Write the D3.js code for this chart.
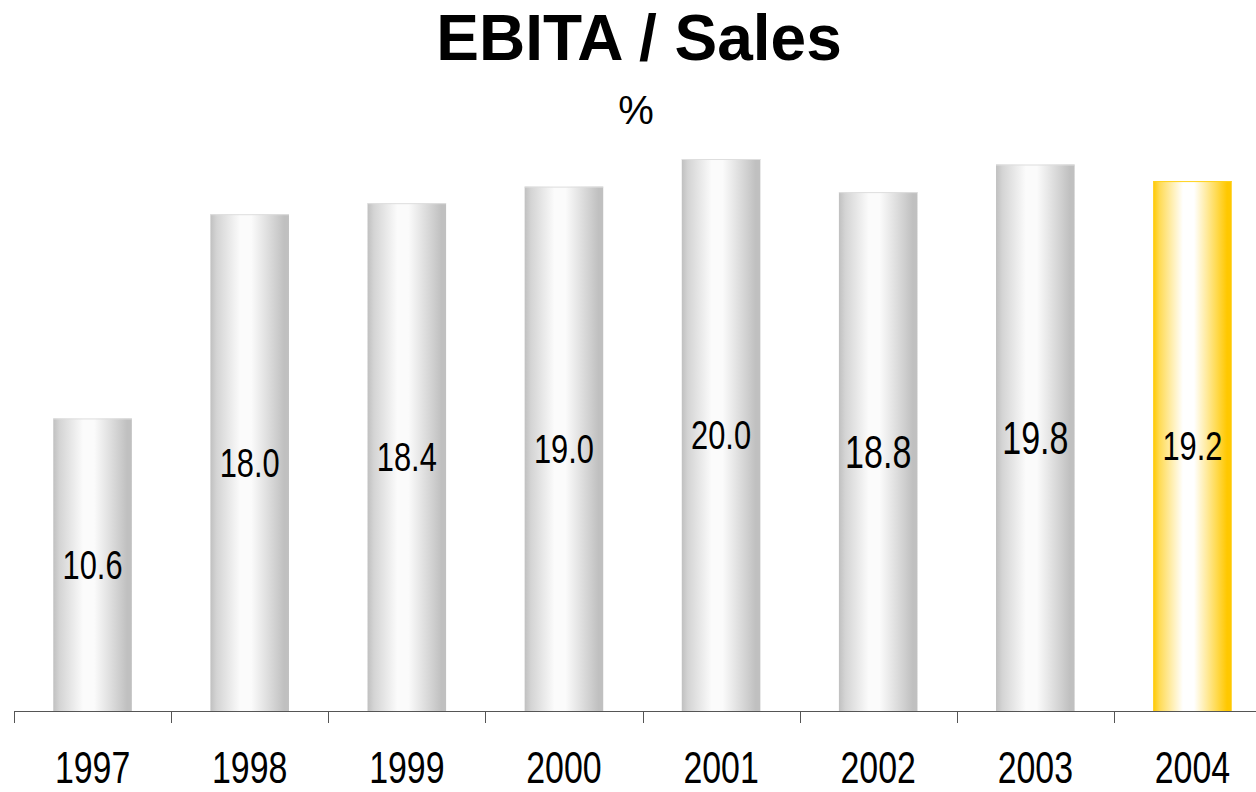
<!DOCTYPE html>
<html>
<head>
<meta charset="utf-8">
<script src="https://cdn.jsdelivr.net/npm/d3@7"></script>
<style>
  html, body { margin: 0; padding: 0; background: #fff; }
  svg { display: block; font-family: "Liberation Sans", Arial, Helvetica, sans-serif; }
</style>
</head>
<body>
<svg id="chart" width="1256" height="792"></svg>
<script>
// EBITA as a share of sales, per year
const years = ["1997", "1998", "1999", "2000", "2001", "2002", "2003", "2004"];
const ebitaSales = [10.6, 18.0, 18.4, 19.0, 20.0, 18.8, 19.8, 19.2];
const highlightYear = "2004";
const largeLabelYears = ["2002", "2003"];

const data = years.map((y, i) => ({ year: y, value: ebitaSales[i] }));

const svg = d3.select("#chart");
const baseY = 711;

const x = d3.scaleBand()
  .domain(years)
  .range([14, 1271])
  .paddingInner(0.5)
  .paddingOuter(0.25);

const y = d3.scaleLinear()
  .domain([0, 20])
  .range([baseY, 159]);

// Cylinder-like horizontal gradients
const defs = svg.append("defs");
function makeGradient(id, edge, mid, light) {
  const g = defs.append("linearGradient")
    .attr("id", id)
    .attr("x1", "0%").attr("x2", "100%")
    .attr("y1", "0%").attr("y2", "0%");
  [
    [0, edge], [0.08, mid], [0.38, light], [0.52, light],
    [0.8, mid], [0.94, edge], [1, edge]
  ].forEach(([o, c]) => g.append("stop").attr("offset", o).attr("stop-color", c));
}
makeGradient("barGrey", "#c0c0c0", "#d4d4d4", "#fbfbfb");
makeGradient("barGold", "#ffc800", "#ffdb55", "#ffffff");

// Title
svg.append("text")
  .attr("x", 639).attr("y", 60)
  .attr("text-anchor", "middle")
  .attr("font-size", 64)
  .attr("font-weight", "bold")
  .attr("fill", "#000")
  .text("EBITA / Sales");

svg.append("text")
  .attr("x", 636).attr("y", 124)
  .attr("text-anchor", "middle")
  .attr("font-size", 40)
  .attr("fill", "#000")
  .text("%");

// Bars
const bars = svg.append("g").selectAll("g.bar")
  .data(data)
  .join("g")
  .attr("class", "bar");

bars.append("rect")
  .attr("x", d => x(d.year))
  .attr("y", d => y(d.value))
  .attr("width", x.bandwidth())
  .attr("height", d => baseY - y(d.value))
  .attr("fill", d => d.year === highlightYear ? "url(#barGold)" : "url(#barGrey)");

// Light rim along the bar tops
bars.append("line")
  .attr("x1", d => x(d.year))
  .attr("x2", d => x(d.year) + x.bandwidth())
  .attr("y1", d => y(d.value) + 0.5)
  .attr("y2", d => y(d.value) + 0.5)
  .attr("stroke", d => d.year === highlightYear ? "#ffd21a" : "#dedede")
  .attr("stroke-width", 1);

// Value labels centred inside each bar
bars.append("text")
  .attr("text-anchor", "middle")
  .attr("fill", "#000")
  .attr("font-size", d => largeLabelYears.includes(d.year) ? 46 : 40)
  .attr("transform", d => {
    const big = largeLabelYears.includes(d.year);
    const fs = big ? 46 : 40;
    const cx = x(d.year) + x.bandwidth() / 2;
    const cy = (y(d.value) + baseY) / 2 + fs * 0.716 / 2;
    return `translate(${cx},${cy}) scale(${big ? 0.74 : 0.77},1)`;
  })
  .text(d => d.value.toFixed(1));

// Category axis: baseline with ticks between categories
const axis = svg.append("g").attr("stroke", "#555").attr("stroke-width", 1);
axis.append("line")
  .attr("x1", x.range()[0]).attr("x2", x.range()[1])
  .attr("y1", baseY + 0.5).attr("y2", baseY + 0.5);

const gap = (x.step() - x.bandwidth()) / 2;
const tickXs = years.map(d => x(d) - gap).concat([x(years[years.length - 1]) + x.bandwidth() + gap]);
axis.selectAll("line.tick")
  .data(tickXs)
  .join("line")
  .attr("class", "tick")
  .attr("x1", d => Math.round(d) + 0.5).attr("x2", d => Math.round(d) + 0.5)
  .attr("y1", baseY).attr("y2", baseY + 12);

// Year labels
svg.append("g").selectAll("text")
  .data(years)
  .join("text")
  .attr("text-anchor", "middle")
  .attr("fill", "#000")
  .attr("font-size", 44)
  .attr("transform", d => `translate(${x(d) + x.bandwidth() / 2},783) scale(0.77,1)`)
  .text(d => d);
</script>
</body>
</html>
